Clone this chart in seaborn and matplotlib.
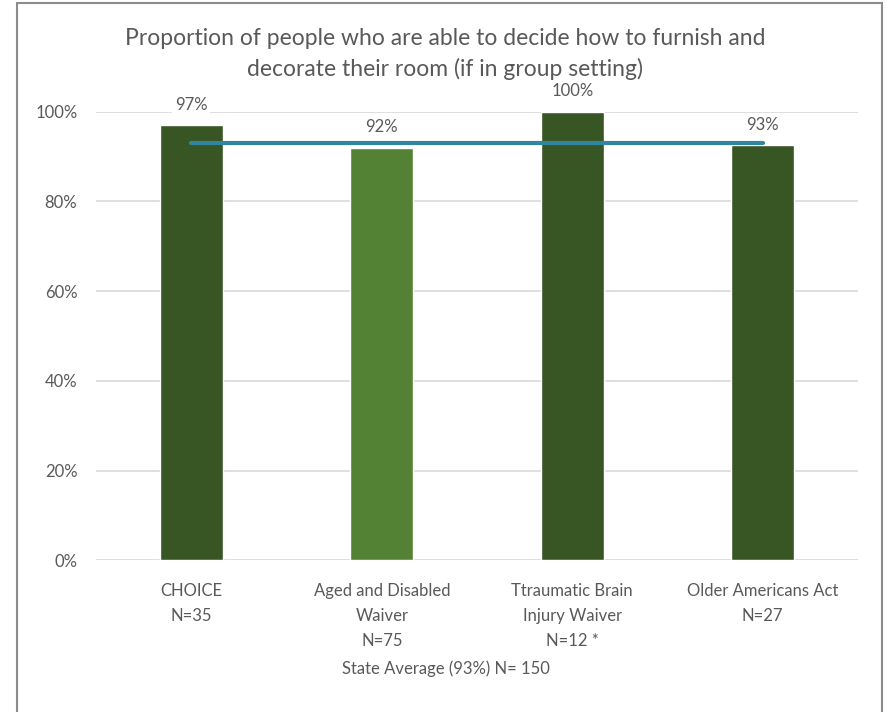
import matplotlib
matplotlib.use("Agg")
import matplotlib.pyplot as plt
import seaborn as sns
import pandas as pd
from matplotlib.patches import Rectangle
from matplotlib.ticker import PercentFormatter

categories = ["CHOICE\nN=35", "Aged and Disabled\nWaiver\nN=75",
              "Ttraumatic Brain\nInjury Waiver\nN=12 *", "Older Americans Act\nN=27"]
values = [0.97, 0.92, 1.00, 0.925]
value_labels = ["97%", "92%", "100%", "93%"]
bar_colors = ["#375623", "#548235", "#375623", "#375623"]
state_avg = 0.93

sns.set_theme(style="white")
plt.rcParams["font.family"] = ["Lato", "DejaVu Sans"]
grey = "#595959"

df = pd.DataFrame({"program": categories, "value": values})

fig = plt.figure(figsize=(8.9, 7.12), dpi=100)
ax = fig.add_axes([0.108, 0.213, 0.856, 0.63])

sns.barplot(data=df, x="program", y="value", hue="program", palette=bar_colors,
            width=0.33, legend=False, saturation=1, ax=ax, zorder=2)

ax.plot([0, len(categories) - 1], [state_avg, state_avg], color="#31859C",
        lw=3, solid_capstyle="round", zorder=3)

for i, (v, lab) in enumerate(zip(values, value_labels)):
    ax.text(i, v + 0.028, lab, ha="center", va="bottom", fontsize=12, color=grey,
            bbox=dict(facecolor="white", edgecolor="none", pad=2), zorder=4)

ax.set_ylim(0, 1)
ax.set_xlim(-0.5, len(categories) - 0.5)
ax.set_yticks([0, 0.2, 0.4, 0.6, 0.8, 1.0])
ax.yaxis.set_major_formatter(PercentFormatter(1.0, decimals=0))
ax.grid(axis="y", color="#d9d9d9", lw=1.2, zorder=0)
ax.set_axisbelow(True)
for s in ax.spines.values():
    s.set_visible(False)
ax.tick_params(axis="y", length=0, labelsize=12, colors=grey, pad=13.5)
ax.tick_params(axis="x", length=0, labelsize=12, colors=grey, pad=16)
for t in ax.get_xticklabels():
    t.set_linespacing(1.72)
ax.set_xlabel("")
ax.set_ylabel("")

fig.text(0.5, 0.924, "Proportion of people who are able to decide how to furnish and\n"
         "decorate their room (if in group setting)", ha="center", va="center",
         fontsize=16.5, color=grey, linespacing=1.5)
fig.text(0.501, 0.061, "State Average (93%) N= 150", ha="center", va="center",
         fontsize=12, color=grey)

fig.patches.append(Rectangle((0.019, -0.01), 0.972, 1.006, transform=fig.transFigure,
                             fill=False, edgecolor="#8c8c8c", lw=1.5))

fig.savefig("out.png", dpi=100)
